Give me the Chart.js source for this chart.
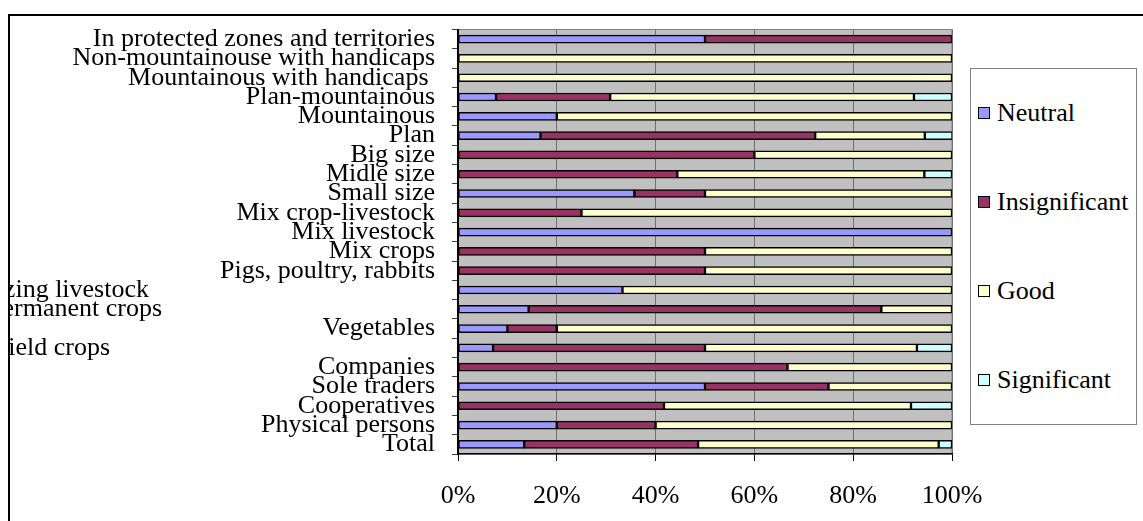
<!DOCTYPE html>
<html>
<head>
<meta charset="utf-8">
<script src="https://cdn.jsdelivr.net/npm/chart.js@4"></script>
<style>
  body { margin: 0; background: #fff; overflow: hidden; width: 1143px; height: 521px; position: relative; }
  #frame { position: absolute; left: 8px; top: 14px; width: 1140px; height: 520px; border: 2px solid #000; box-sizing: border-box; }
  #wrap { position: absolute; left: 10px; top: 16px; width: 1133px; height: 505px; }
  #legend { position: absolute; left: 970px; top: 68px; width: 167px; height: 357px; border: 1px solid #808080;
            box-sizing: border-box; background: #fff; display: flex; flex-direction: column; justify-content: space-around;
            font-family: 'Liberation Serif', serif; font-size: 26px; color: #000; }
  #legend div { display: flex; align-items: center; padding-left: 7px; }
  #legend span.box { width: 10px; height: 10px; border: 1.5px solid #000; margin-right: 7px; display: inline-block; }
</style>
</head>
<body>
<div id="frame"></div>
<div id="wrap"><canvas id="chart"></canvas></div>
<div id="legend"></div>
<script>
// categories, top to bottom
var categories = [
  'In protected zones and territories',
  'Non-mountainouse with handicaps',
  'Mountainous with handicaps ',
  'Plan-mountainous',
  'Mountainous',
  'Plan',
  'Big size',
  'Midle size',
  'Small size',
  'Mix crop-livestock',
  'Mix livestock',
  'Mix crops',
  'Pigs, poultry, rabbits',
  'Grazing livestock' + ' '.repeat(44),
  'Permanent crops' + ' '.repeat(42),
  'Vegetables',
  'Field crops' + ' '.repeat(50),
  'Companies',
  'Sole traders',
  'Cooperatives',
  'Physical persons',
  'Total'
];

// percentages per category
var neutral       = [50, 0, 0, 7.7, 20, 16.7, 0, 0, 35.7, 0, 100, 0, 0, 33.3, 14.3, 10, 7.1, 0, 50, 0, 20, 13.4];
var insignificant = [50, 0, 0, 23.1, 0, 55.6, 60, 44.4, 14.3, 25, 0, 50, 50, 0, 71.4, 10, 42.9, 66.7, 25, 41.7, 20, 35.2];
var good          = [0, 100, 100, 61.5, 80, 22.2, 40, 50, 50, 75, 0, 50, 50, 66.7, 14.3, 80, 42.9, 33.3, 25, 50, 60, 48.7];
var significant   = [0, 0, 0, 7.7, 0, 5.6, 0, 5.6, 0, 0, 0, 0, 0, 0, 0, 0, 7.1, 0, 0, 8.3, 0, 2.7];

var seriesNames = ['Neutral', 'Insignificant', 'Good', 'Significant'];
var seriesColors = ['#9999FF', '#993366', '#FFFFCC', '#CCFFFF'];
var xTicks = [0, 20, 40, 60, 80, 100];

Chart.defaults.font.family = "'Liberation Serif', serif";
Chart.defaults.font.size = 26;
Chart.defaults.color = '#000';

//gray plot background
var plotBg = {
  id: 'plotBg',
  beforeDraw: function(chart) {
    var a = chart.chartArea, ctx = chart.ctx;
    ctx.save();
    ctx.fillStyle = '#C0C0C0';
    ctx.fillRect(a.left, a.top, a.right - a.left, a.bottom - a.top);
    ctx.strokeStyle = '#808080';
    ctx.lineWidth = 1;
    ctx.strokeRect(a.left, a.top, a.right - a.left, a.bottom - a.top);
    ctx.restore();
  }
};

var allSeries = [neutral, insignificant, good, significant];
var datasets = [];
for (var i = 0; i < seriesNames.length; i++) {
  datasets.push({
    label: seriesNames[i],
    data: allSeries[i],
    backgroundColor: seriesColors[i],
    borderColor: '#000',
    borderWidth: 1.5,
    borderSkipped: false,
    barThickness: 8
  });
}

new Chart(document.getElementById('chart'), {
  type: 'bar',
  data: { labels: categories, datasets: datasets },
  plugins: [plotBg],
  options: {
    indexAxis: 'y',
    responsive: true,
    maintainAspectRatio: false,
    animation: false,
    layout: { padding: { top: 13.5, right: 191, left: 0, bottom: 0 } },
    plugins: { legend: { display: false }, tooltip: { enabled: false } },
    scales: {
      x: {
        stacked: true,
        min: 0,
        max: 100,
        afterBuildTicks: function(scale) { scale.ticks = xTicks.map(function(v) { return { value: v }; }); },
        afterFit: function(scale) {
          scale.height = 67;
          scale.paddingLeft = 0;
          scale.paddingRight = 0;
        },
        ticks: { padding: 20, callback: function(v) { return v + '%'; } },
        grid: { color: '#707070', lineWidth: 1, tickLength: 7, tickColor: '#000' },
        border: { color: '#000', width: 1.5 }
      },
      y: {
        stacked: true,
        afterFit: function(scale) {
          scale.width = 448;
          scale.paddingTop = 0;
          scale.paddingBottom = 0;
        },
        ticks: { autoSkip: false, padding: 17 },
        grid: { drawOnChartArea: false, tickLength: 6, tickColor: '#404040' },
        border: { color: '#000', width: 2 }
      }
    }
  }
});

//legend box
var leg = document.getElementById('legend');
seriesNames.forEach(function(name, i) {
  var row = document.createElement('div');
  row.innerHTML = '<span class="box" style="background:' + seriesColors[i] + '"></span>' + name;
  leg.appendChild(row);
});
</script>
</body>
</html>
